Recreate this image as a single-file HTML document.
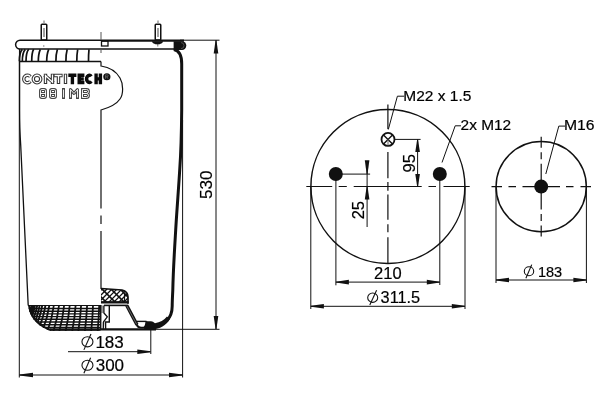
<!DOCTYPE html>
<html><head><meta charset="utf-8"><style>
html,body{margin:0;padding:0;background:#fff;width:600px;height:400px;overflow:hidden}
svg{display:block}
text{font-family:"Liberation Sans",sans-serif;fill:#000;stroke:#000;stroke-width:0.2}
svg{will-change:transform}
</style></head><body>
<svg width="600" height="400" viewBox="0 0 600 400">
<defs>
<symbol id="dia" viewBox="0 0 12 15" overflow="visible">
  <circle cx="5.35" cy="7.3" r="4.9" fill="none" stroke="#111" stroke-width="1.1"/>
  <line x1="2.2" y1="14.3" x2="9" y2="0" stroke="#111" stroke-width="1.1"/>
</symbol>
<clipPath id="lobe"><path d="M28 305.5 H100.5 V331 H51 C41 328 30 320 28 305.5 Z"/></clipPath>
<clipPath id="bump"><path d="M101 288.5 L122 290 C126 291 128 293 128 297 V302 H101 Z"/></clipPath>
</defs>

<!-- ============ LEFT DRAWING ============ -->
<g fill="none" stroke="#111" stroke-linecap="butt">
<!-- studs -->
<rect x="41.25" y="24.25" width="5.5" height="15.75" rx="0.8" stroke-width="1.5"/>
<line x1="44" y1="28" x2="44" y2="37" stroke="#555" stroke-width="1.1"/>
<line x1="44" y1="20.5" x2="44" y2="23" stroke="#666" stroke-width="1"/>
<rect x="155.25" y="24.25" width="5.5" height="15.75" rx="0.8" stroke-width="1.5"/>
<line x1="158" y1="28" x2="158" y2="37" stroke="#555" stroke-width="1.1"/>
<line x1="158" y1="20.5" x2="158" y2="23" stroke="#666" stroke-width="1"/>
<!-- plate -->
<path d="M101 40.2 H20 A4.4 4.4 0 0 0 20 49 H101" stroke-width="1.5"/>
<line x1="101" y1="40.6" x2="184" y2="40.6" stroke-width="2.2"/>
<line x1="101" y1="49" x2="175" y2="49" stroke-width="1.5"/>
<rect x="101.5" y="41" width="6.5" height="5" stroke-width="1.3"/>
<line x1="180" y1="40.2" x2="219.5" y2="40.2" stroke-width="1"/>
<!-- corrugation band -->
<line x1="19.5" y1="61.5" x2="101" y2="61.5" stroke-width="1.3"/>
<g stroke-width="1.7">
<path d="M22.3 49.3 Q19.3 52.5 19.3 61.5"/>
<path d="M25.3 49.3 Q22.3 52.5 22.3 61.5"/>
<path d="M28.7 49.3 Q26.0 52.5 26 61.5"/>
<path d="M33.7 49.3 Q31.7 52.5 31.7 61.5"/>
<path d="M40.3 49.3 Q38.3 54 38.3 61.5"/>
<path d="M48.7 49.3 Q46.7 54 46.7 61.5"/>
<path d="M57.4 49.3 Q55.9 54 55.9 61.5"/>
<path d="M67.2 49.3 Q65.9 54 65.9 61.5"/>
<path d="M77.7 49.3 Q76.8 54 76.8 61.5"/>
<path d="M89 49.3 Q88.5 54 88.5 61.5"/>
</g>
<!-- left body wall -->
<path d="M19.6 49 V110 C19.6 125 20 135 20.7 145 L28.2 305.5" stroke-width="1.3"/>
<!-- logo cutout boundary + section line -->
<path d="M101 61.5 V66 C108 67 116 71 120 78 C123.5 84 123.5 94 120 99 C116 105 108 108 101 110 V208.5 M101 215.5 V224 M101 231 V289" stroke-width="1.2"/>
<line x1="101" y1="32" x2="101" y2="40" stroke-width="1" stroke="#555"/>
<line x1="101" y1="49" x2="101" y2="53" stroke-width="1" stroke="#555"/>
<!-- right wall -->
<path d="M173.8 49.6 C179 50.5 181.7 56 181.7 64 V110 C181.5 135 180.8 155 179.7 170 C178.5 190 176.5 215 175.7 230 C174.5 250 173.2 270 172.8 290 C172.4 298 172.2 302 172.2 306 C172.2 318 165 325.5 153 326.3" stroke-width="3"/>
<!-- extension lines -->
<line x1="19.3" y1="62" x2="19.3" y2="377.5" stroke-width="1"/>
<line x1="182.6" y1="120" x2="182.6" y2="377.5" stroke-width="1"/>
<line x1="150.8" y1="329" x2="150.8" y2="354" stroke-width="1"/>
<line x1="155" y1="329.3" x2="219.5" y2="329.3" stroke-width="1"/>
<!-- dim 530 -->
<line x1="216" y1="40" x2="216" y2="329" stroke-width="1"/>
</g>
<!-- bead -->
<path d="M173.6 41.3 H182 A4.3 4.3 0 0 1 182 49.9 H173.6 Z" fill="#111"/>
<path d="M181 42.6 A3 3 0 0 1 181 48.6" fill="none" stroke="#666" stroke-width="0.7"/>
<path d="M152 41.3 H163 C163 43.2 160.5 44.4 157.5 44.4 C154.5 44.4 152 43.2 152 41.3 Z" fill="#111"/>
<line x1="157.8" y1="44" x2="157.8" y2="46.5" stroke="#555" stroke-width="0.8"/>
<circle cx="43.8" cy="46" r="0.7" fill="#777"/>

<!-- bottom lobe hatch -->
<g clip-path="url(#lobe)">
<rect x="20" y="300" width="90" height="40" fill="#fff"/>
<path fill="none" stroke="#111" stroke-width="1.4" d="M20 308.5 H101 M20 311.2 H101 M20 313.9 H101 M20 316.6 H101 M20 319.3 H101 M20 322.0 H101 M20 324.7 H101 M20 327.4 H101 M20 330.1 H101"/>
<path fill="none" stroke="#111" stroke-width="1.8" d="M31.5 305.5 Q28.9 318 21.3 331 M33.2 305.5 Q30.7 318 23.3 331 M35.0 305.5 Q32.6 318 25.4 331 M37.2 305.5 Q34.9 318 28.1 331 M39.6 305.5 Q37.4 318 30.9 331 M42.2 305.5 Q40.1 318 33.9 331 M45.4 305.5 Q43.5 318 37.7 331 M49.3 305.5 Q47.5 318 42.3 331 M53.8 305.5 Q52.2 318 47.5 331 M59.0 305.5 Q57.6 318 53.5 331 M64.1 305.5 Q62.9 318 59.3 331 M69.7 305.5 Q68.7 318 65.6 331 M75.6 305.5 Q74.8 318 72.2 331 M81.1 305.5 Q80.4 318 78.3 331 M87.1 305.5 Q86.5 318 84.9 331 M93.0 305.5 Q92.6 318 91.2 331 M99.2 305.5 Q98.8 318 97.7 331"/>
<path fill="none" stroke="#111" stroke-width="4" d="M28 305.5 C30 320 41 328 51 331"/>
</g>
<path fill="none" stroke="#111" stroke-width="1.2" d="M28 305.5 H101.5"/>

<!-- bumper -->
<g clip-path="url(#bump)">
<rect x="100" y="286" width="30" height="20" fill="#fff"/>
<path fill="none" stroke="#111" stroke-width="1.3" d="M92 284 L68 308 M97 284 L73 308 M102 284 L78 308 M107 284 L83 308 M112 284 L88 308 M117 284 L93 308 M122 284 L98 308 M127 284 L103 308 M132 284 L108 308 M137 284 L113 308 M142 284 L118 308 M147 284 L123 308 M152 284 L128 308 M157 284 L133 308 M162 284 L138 308 M167 284 L143 308"/>
<path fill="none" stroke="#111" stroke-width="1.6" d="M61 284 L85 308 M70 284 L94 308 M79 284 L103 308 M88 284 L112 308 M97 284 L121 308 M106 284 L130 308 M115 284 L139 308 M124 284 L148 308 M133 284 L157 308"/>
<path fill="none" stroke="#111" stroke-width="1.2" d="M124.5 293 V301"/>
</g>
<path fill="none" stroke="#111" stroke-width="1.7" d="M101 288.5 L122 290 C126 291 128 293 128 297 V303.8"/>
<!-- piston -->
<g fill="none" stroke="#111">
<path d="M101 302.3 H128.5" stroke-width="2.4"/>
<path d="M104 305.4 H128" stroke-width="1.6"/>
<path d="M109.3 305.5 V322 H105.6 V329.5" stroke-width="1.4"/>
<path d="M102.3 305.5 V313" stroke-width="2" stroke="#999"/>
<path d="M100.7 305.5 V329.5" stroke-width="1.5"/>
<path d="M103.9 305.5 V313 L107.3 316.8 L103.6 321.8 L103.2 329.5" stroke-width="1.3"/>
<path d="M102.2 322 V329" stroke-width="1" stroke="#aaa"/>
<path d="M126.8 305.5 L137 324.8" stroke-width="3.4"/>
<path d="M126.8 305.8 L136.8 324.5" stroke-width="0.7" stroke="#888"/>
<path d="M136.5 321.4 H146.5" stroke-width="1.4"/>
<path d="M136.6 324.4 C137.5 327 139 327.6 141 327.6 H143.5 C145 327.6 146 326 146.5 321.4" stroke-width="1.9"/>
<path d="M50 329.4 H156" stroke-width="2.2"/>
</g>
<path fill="#111" d="M146 321.3 H151 C152.5 321.3 153.5 322.3 155 323.2 C160 322.5 164 320 167 316.5 L170 319 C166 325 160 329.4 152 329.4 H143.5 C145.5 327 146 324 146 321.3 Z"/>

<g fill="#111" stroke="none">
<polygon points="215.55,40.50 216.45,40.50 218.30,53.50 213.70,53.50"/>
<polygon points="215.55,329.00 216.45,329.00 218.30,316.00 213.70,316.00"/>
</g>
<text x="205.65" y="184.7" font-size="17" text-anchor="middle" dy="6" transform="rotate(-90 205.65 184.7)">530</text>

<!-- dims ⌀183 / ⌀300 -->
<g stroke="#111" stroke-width="1" fill="none">
<line x1="68" y1="351.7" x2="150" y2="351.7"/>
<line x1="19.5" y1="375" x2="182.5" y2="375"/>
</g>
<g fill="#111">
<polygon points="150.80,351.25 150.80,352.15 137.30,354.00 137.30,349.40"/>
<polygon points="19.50,374.55 19.50,375.45 33.00,377.30 33.00,372.70"/>
<polygon points="182.50,374.55 182.50,375.45 169.00,377.30 169.00,372.70"/>
</g>
<g fill="none" stroke="#111" stroke-width="1.1">
<ellipse cx="87.45" cy="341.8" rx="5.5" ry="5.1"/><line x1="83.9" y1="349.9" x2="91" y2="334"/>
<ellipse cx="87.45" cy="365.25" rx="5.5" ry="5.0"/><line x1="83.9" y1="373.2" x2="90.6" y2="357.75"/>
</g>
<text x="95.4" y="348" font-size="17">183</text>
<text x="95.7" y="371" font-size="17">300</text>

<!-- logo -->
<g fill="none" stroke-linecap="butt" stroke-linejoin="miter">
<path d="M30.37 76.59 A3.75 3.75 0 1 0 30.37 81.41 M33.25 79 A3.75 3.75 0 1 0 40.75 79 A3.75 3.75 0 1 0 33.25 79 Z M45.5 84 V73.7 M44.3 75.2 L53.7 82.6 M52.5 84 V73.7 M53.7 75.5 H62.6 M58.5 73.7 V84 M65.5 73.7 V84" stroke="#333" stroke-width="3.4"/>
<path d="M30.24 76.44 A3.75 3.75 0 1 0 30.24 81.56 M33.25 79 A3.75 3.75 0 1 0 40.75 79 A3.75 3.75 0 1 0 33.25 79 Z M45.5 83.1 V75.6 L52.5 82.2 V74.6 M54.6 75.5 H61.7 M58.5 75.5 V83.1 M65.5 74.6 V83.1" stroke="#fff" stroke-width="1.3"/>
<path d="M68.3 75.2 H76.4 M72.4 73.5 V84.2 M79.2 73.5 V84.2 M77.5 75.2 H84.4 M77.5 78.9 H83.8 M77.5 82.5 H84.4 M91.23 76.41 A2.6 3.65 0 1 0 91.23 81.29 M96.1 73.5 V84.2 M100.4 73.5 V84.2 M96 78.9 H100.4" stroke="#0a0a0a" stroke-width="3.4"/>
</g>
<circle cx="106.85" cy="76.75" r="3.6" fill="#111"/>
<path d="M105.6 78.8 V74.8 H107.2 A1 1 0 0 1 107.2 76.8 H105.6 M106.8 76.8 L108 78.8" fill="none" stroke="#888" stroke-width="0.6"/>
<g fill="none" stroke-linejoin="round" stroke-linecap="square">
<path d="M41.8 89.5 H44.2 Q45.5 89.5 45.5 90.8 V96.2 Q45.5 97.5 44.2 97.5 H41.8 Q40.5 97.5 40.5 96.2 V90.8 Q40.5 89.5 41.8 89.5 Z M40.5 93.5 H45.5 M51.8 89.5 H54.2 Q55.5 89.5 55.5 90.8 V96.2 Q55.5 97.5 54.2 97.5 H51.8 Q50.5 97.5 50.5 96.2 V90.8 Q50.5 89.5 51.8 89.5 Z M50.5 93.5 H55.5 M63.5 89.5 V97.5 M70.5 97.5 V89.5 L74 93.5 L77.5 89.5 V97.5 M82.5 89.5 H86.5 Q88.5 89.5 88.5 91.5 Q88.5 93.5 86.5 93.5 H82.5 M82.5 93.5 H86.5 Q88.5 93.5 88.5 95.5 Q88.5 97.5 86.5 97.5 H82.5 Z M82.5 89.5 V97.5" stroke="#444" stroke-width="2.9"/>
<path d="M41.8 89.5 H44.2 Q45.5 89.5 45.5 90.8 V96.2 Q45.5 97.5 44.2 97.5 H41.8 Q40.5 97.5 40.5 96.2 V90.8 Q40.5 89.5 41.8 89.5 Z M40.5 93.5 H45.5 M51.8 89.5 H54.2 Q55.5 89.5 55.5 90.8 V96.2 Q55.5 97.5 54.2 97.5 H51.8 Q50.5 97.5 50.5 96.2 V90.8 Q50.5 89.5 51.8 89.5 Z M50.5 93.5 H55.5 M63.5 89.5 V97.5 M70.5 97.5 V89.5 L74 93.5 L77.5 89.5 V97.5 M82.5 89.5 H86.5 Q88.5 89.5 88.5 91.5 Q88.5 93.5 86.5 93.5 H82.5 M82.5 93.5 H86.5 Q88.5 93.5 88.5 95.5 Q88.5 97.5 86.5 97.5 H82.5 Z M82.5 89.5 V97.5" stroke="#fff" stroke-width="0.9" stroke-linecap="butt"/>
</g>

<!-- ============ BIG CIRCLE ============ -->
<g fill="none" stroke="#111">
<circle cx="387.9" cy="186.5" r="77" stroke-width="1.5"/>
<circle cx="388" cy="139.4" r="6.5" stroke-width="1.8"/>
<path d="M383.5 134.9 L392.5 143.9 M392.5 134.9 L383.5 143.9" stroke-width="1.4"/>
<path d="M388 139.4 V145.5" stroke-width="1" stroke="#666"/>
<path d="M387.9 104.6 V129 M387.9 151.9 V178.2 M387.9 182 V190.8 M387.9 194.6 V219.8 M387.9 224.3 V232.2 M387.9 237.2 V263.5" stroke-width="1.2"/>
<path d="M306.3 186.5 H332.2 M338.7 186.5 H346.8 M353.7 186.5 H421.7 M428.5 186.5 H436 M443.5 186.5 H469.7" stroke-width="1.2"/>
<path d="M335.9 174 V285.3 M439.8 174 V285 M335.9 174.1 H370.1 M394.5 139.4 H420.6 M310.8 186.5 V309 M465 186.5 V309" stroke-width="1"/>
<path d="M367.1 165 V227" stroke-width="1"/>
<path d="M417.6 139.6 V186.5" stroke-width="1"/>
<path d="M335.9 282.1 H439.8" stroke-width="1"/>
<path d="M310.8 306.3 H465" stroke-width="1"/>
<path d="M388.3 129.5 L397.4 96.2 H404.2" stroke-width="1"/>
<path d="M442 162.5 L455.2 125.8 H461" stroke-width="1"/>
</g>
<g fill="#111">
<circle cx="335.8" cy="174" r="7"/>
<circle cx="439.8" cy="174" r="7"/>
<polygon points="366.65,174.00 367.55,174.00 369.40,160.30 364.80,160.30"/>
<polygon points="366.65,186.50 367.55,186.50 369.40,199.50 364.80,199.50"/>
<polygon points="417.15,139.60 418.05,139.60 419.90,151.90 415.30,151.90"/>
<polygon points="417.15,186.50 418.05,186.50 419.90,174.00 415.30,174.00"/>
<polygon points="335.90,281.65 335.90,282.55 348.90,284.40 348.90,279.80"/>
<polygon points="439.80,281.65 439.80,282.55 426.80,284.40 426.80,279.80"/>
<polygon points="310.90,305.85 310.90,306.75 323.90,308.60 323.90,304.00"/>
<polygon points="464.80,305.85 464.80,306.75 451.80,308.60 451.80,304.00"/>
</g>
<text x="403.3" y="100.6" font-size="14.8" textLength="68.1" lengthAdjust="spacingAndGlyphs">M22 x 1.5</text>
<text x="460.6" y="130.3" font-size="14.8" textLength="50.6" lengthAdjust="spacingAndGlyphs">2x M12</text>
<text x="357.9" y="210.15" font-size="16.5" text-anchor="middle" transform="rotate(-90 357.9 210.15)" dy="5.8">25</text>
<text x="408.9" y="163.3" font-size="16.5" text-anchor="middle" transform="rotate(-90 408.9 163.3)" dy="5.8">95</text>
<text x="374.1" y="279.3" font-size="16.5">210</text>
<g fill="none" stroke="#111" stroke-width="1.1"><ellipse cx="372.7" cy="297.65" rx="5.0" ry="4.7"/><line x1="369.8" y1="305" x2="376.6" y2="290.3"/></g>
<text x="380.6" y="302.5" font-size="16.3">311.5</text>

<!-- ============ SMALL CIRCLE ============ -->
<g fill="none" stroke="#111">
<circle cx="541.2" cy="186.6" r="45.1" stroke-width="1.5"/>
<path d="M491.5 186.6 H502 M508.5 186.6 H516 M522.5 186.6 H560 M566 186.6 H573.5 M580.5 186.6 H591" stroke-width="1.2"/>
<path d="M541.2 136.7 V147.7 M541.2 152.2 V159.2 M541.2 163.7 V209.5 M541.2 214 V221 M541.2 225.5 V236.5" stroke-width="1.2"/>
<path d="M496 186.6 V283 M586.4 186.6 V283 M496 280 H586.4" stroke-width="1"/>
<path d="M545.8 174 L558.8 126.1 H565" stroke-width="1"/>
</g>
<g fill="#111">
<circle cx="541.2" cy="186.6" r="7"/>
<polygon points="496.00,279.55 496.00,280.45 509.00,282.30 509.00,277.70"/>
<polygon points="586.40,279.55 586.40,280.45 573.40,282.30 573.40,277.70"/>
</g>
<text x="564" y="129.9" font-size="14.8" textLength="30.6" lengthAdjust="spacingAndGlyphs">M16</text>
<g fill="none" stroke="#111" stroke-width="1.1"><ellipse cx="529" cy="271.25" rx="4.7" ry="4.5"/><line x1="525.9" y1="278.3" x2="531.75" y2="264.6"/></g>
<text x="537.9" y="277" font-size="14.5">183</text>
</svg>
</body></html>
